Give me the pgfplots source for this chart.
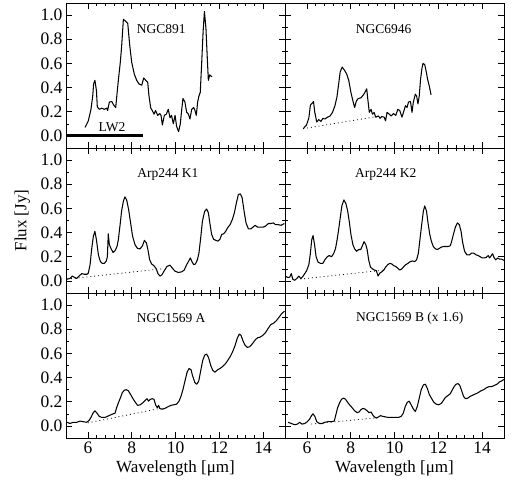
\documentclass[border=0pt]{standalone}
\usepackage{fontspec}
\setmainfont{Liberation Serif}
\usepackage{pgfplots}
\pgfplotsset{compat=1.18}
\pgfplotsset{
  panel/.style={
    scale only axis, width=219pt, height=145pt,
    xmin=5, xmax=15, ymin=-0.1, ymax=1.1,
    xtick={6,8,10,12,14}, ytick={0,0.2,0.4,0.6,0.8,1.0},
    minor x tick num=4, minor y tick num=1,
    tick align=inside, major tick length=6pt, minor tick length=3pt,
    every tick/.style={black, line width=0.6pt},
    axis line style={line width=0.8pt},
    yticklabel style={/pgf/number format/fixed, /pgf/number format/fixed zerofill, /pgf/number format/precision=1},
    /pgf/number format/assume math mode=true,
    ticklabel style={font=\fontsize{17.5}{19}\selectfont},
    label style={font=\fontsize{17}{19}\selectfont},
    clip=true,
  },
  nox/.style={xticklabels={}},
  noy/.style={yticklabels={}},
  spec/.style={black, no markers, line width=1.05pt, line join=round},
  base/.style={black, no markers, dash pattern=on 0.9pt off 3pt, line width=0.8pt},
}
\newcommand{\plab}[3]{\node[font=\fontsize{13.5}{15}\selectfont] at (axis cs:#1,#2) {#3};}
\begin{document}
\begin{tikzpicture}
\useasboundingbox (-66pt,-43pt) rectangle (447pt,438pt);
% ---------- top left: NGC891
\begin{axis}[panel, nox, at={(0pt,290pt)}, anchor=south west]
\addplot[spec] coordinates {
(5.87,0.07) (6.02,0.125) (6.14,0.22) (6.22,0.33) (6.26,0.43) (6.32,0.46) (6.39,0.375) (6.43,0.24)
(6.52,0.22) (6.63,0.23) (6.75,0.22) (6.86,0.23) (6.9,0.21) (6.98,0.28) (7.09,0.285) (7.18,0.255)
(7.27,0.235) (7.33,0.35) (7.39,0.46) (7.48,0.61) (7.54,0.74) (7.62,0.965) (7.72,0.95) (7.82,0.93)
(7.91,0.75) (8.0,0.61) (8.12,0.51) (8.23,0.46) (8.33,0.43) (8.46,0.42) (8.55,0.48) (8.64,0.46)
(8.73,0.445) (8.79,0.33) (8.87,0.23) (8.94,0.21) (9.02,0.18) (9.09,0.21) (9.19,0.17) (9.28,0.185)
(9.34,0.17) (9.4,0.09) (9.49,0.17) (9.58,0.18) (9.67,0.22) (9.75,0.15) (9.82,0.17) (9.9,0.1)
(9.98,0.17) (10.05,0.08) (10.14,0.035) (10.22,0.1) (10.28,0.21) (10.34,0.31) (10.43,0.28) (10.51,0.195)
(10.59,0.18) (10.66,0.14) (10.74,0.22) (10.83,0.235) (10.89,0.21) (10.95,0.17) (11.01,0.28) (11.07,0.33)
(11.13,0.36) (11.19,0.58) (11.26,0.86) (11.32,1.03) (11.39,0.89) (11.45,0.65) (11.5,0.46) (11.56,0.505)
(11.62,0.495) (11.67,0.49)
};
\addplot[black, no markers, line width=3pt] coordinates {(5,0) (8.5,0)};
\plab{9.35}{0.88}{NGC891}
\plab{7.1}{0.075}{LW2}
\end{axis}
% ---------- top right: NGC6946
\begin{axis}[panel, nox, noy, at={(219pt,290pt)}, anchor=south west]
\addplot[spec] coordinates {
(5.83,0.06) (5.98,0.09) (6.09,0.15) (6.16,0.255) (6.24,0.27) (6.3,0.285) (6.36,0.195) (6.45,0.115)
(6.54,0.135) (6.64,0.12) (6.73,0.145) (6.82,0.14) (6.94,0.155) (7.06,0.165) (7.17,0.195) (7.28,0.25)
(7.37,0.32) (7.45,0.43) (7.52,0.53) (7.61,0.57) (7.71,0.545) (7.81,0.515) (7.91,0.46) (8.01,0.36)
(8.1,0.29) (8.18,0.235) (8.26,0.29) (8.35,0.31) (8.47,0.315) (8.58,0.34) (8.65,0.36) (8.73,0.39)
(8.78,0.305) (8.85,0.195) (8.93,0.22) (8.99,0.18) (9.07,0.195) (9.14,0.155) (9.27,0.165) (9.34,0.145)
(9.42,0.16) (9.53,0.155) (9.59,0.125) (9.66,0.195) (9.76,0.18) (9.85,0.165) (9.95,0.185) (10.06,0.17)
(10.15,0.22) (10.24,0.21) (10.34,0.155) (10.41,0.195) (10.5,0.25) (10.57,0.235) (10.64,0.28) (10.73,0.285)
(10.8,0.195) (10.86,0.28) (10.95,0.345) (11.01,0.33) (11.07,0.265) (11.13,0.33) (11.19,0.47) (11.25,0.555)
(11.3,0.6) (11.38,0.59) (11.44,0.54) (11.51,0.47) (11.59,0.41) (11.67,0.34)
};
\addplot[base] coordinates {(5.83,0.06) (9.19,0.16)};
\plab{9.5}{0.88}{NGC6946}
\end{axis}
% ---------- middle left: Arp244 K1
\begin{axis}[panel, nox, at={(0pt,145pt)}, anchor=south west, ylabel={Flux [Jy]},
  ylabel style={at={(axis description cs:-0.2,0.5)}, anchor=center}]
\addplot[spec] coordinates {
(5.05,0.015) (5.18,0.02) (5.29,0.04) (5.38,0.03) (5.49,0.02) (5.59,0.04) (5.72,0.06) (5.84,0.055)
(5.96,0.055) (6.02,0.065) (6.1,0.135) (6.17,0.26) (6.25,0.37) (6.32,0.41) (6.39,0.34) (6.48,0.215)
(6.57,0.16) (6.66,0.145) (6.75,0.145) (6.84,0.165) (6.89,0.2) (6.93,0.39) (6.98,0.3) (7.05,0.27)
(7.15,0.235) (7.24,0.25) (7.33,0.285) (7.39,0.34) (7.47,0.465) (7.54,0.58) (7.62,0.66) (7.69,0.695)
(7.77,0.67) (7.86,0.59) (7.95,0.48) (8.04,0.37) (8.15,0.3) (8.26,0.27) (8.38,0.265) (8.49,0.29)
(8.58,0.335) (8.67,0.315) (8.74,0.26) (8.82,0.175) (8.91,0.14) (9.02,0.125) (9.12,0.1) (9.2,0.06)
(9.29,0.04) (9.38,0.05) (9.49,0.085) (9.61,0.12) (9.75,0.13) (9.86,0.105) (9.98,0.08) (10.13,0.07)
(10.28,0.075) (10.4,0.09) (10.51,0.135) (10.59,0.16) (10.68,0.19) (10.75,0.16) (10.83,0.135) (10.91,0.14)
(11.0,0.175) (11.07,0.23) (11.15,0.355) (11.23,0.495) (11.33,0.575) (11.42,0.595) (11.5,0.565) (11.58,0.465)
(11.65,0.385) (11.74,0.345) (11.85,0.335) (11.94,0.33) (12.03,0.345) (12.11,0.385) (12.2,0.39) (12.29,0.41)
(12.38,0.44) (12.49,0.465) (12.6,0.51) (12.69,0.565) (12.78,0.645) (12.87,0.715) (12.96,0.72) (13.04,0.69)
(13.13,0.58) (13.22,0.48) (13.33,0.43) (13.43,0.43) (13.54,0.445) (13.63,0.46) (13.75,0.445) (13.87,0.445)
(14.01,0.445) (14.12,0.455) (14.24,0.475) (14.36,0.475) (14.47,0.48) (14.57,0.465) (14.7,0.465) (14.82,0.46)
(14.97,0.475)
};
\addplot[base] coordinates {(5.05,0.015) (9.37,0.1)};
\plab{9.65}{0.88}{Arp244 K1}
\end{axis}
% ---------- middle right: Arp244 K2
\begin{axis}[panel, nox, noy, at={(219pt,145pt)}, anchor=south west]
\addplot[spec] coordinates {
(5.0,0.04) (5.11,0.03) (5.21,0.03) (5.29,0.06) (5.35,0.015) (5.44,0.005) (5.54,0.02) (5.63,0.04)
(5.72,0.02) (5.81,0.035) (5.9,0.06) (5.99,0.085) (6.09,0.135) (6.16,0.23) (6.22,0.34) (6.28,0.375)
(6.35,0.3) (6.42,0.2) (6.51,0.155) (6.62,0.145) (6.73,0.145) (6.82,0.175) (6.93,0.2) (7.02,0.21)
(7.13,0.2) (7.23,0.23) (7.31,0.27) (7.37,0.33) (7.45,0.425) (7.52,0.52) (7.6,0.625) (7.69,0.67)
(7.78,0.64) (7.86,0.58) (7.94,0.485) (8.01,0.385) (8.1,0.3) (8.18,0.265) (8.27,0.245) (8.36,0.26)
(8.46,0.26) (8.53,0.29) (8.61,0.325) (8.69,0.3) (8.75,0.26) (8.82,0.175) (8.9,0.115) (8.99,0.1)
(9.08,0.09) (9.17,0.085) (9.25,0.04) (9.33,0.065) (9.42,0.075) (9.51,0.09) (9.6,0.115) (9.69,0.135)
(9.79,0.145) (9.88,0.14) (9.97,0.125) (10.06,0.12) (10.15,0.105) (10.24,0.09) (10.34,0.1) (10.43,0.12)
(10.52,0.135) (10.61,0.145) (10.72,0.16) (10.83,0.165) (10.92,0.16) (11.01,0.175) (11.09,0.23) (11.16,0.34)
(11.24,0.465) (11.32,0.58) (11.38,0.62) (11.46,0.58) (11.53,0.48) (11.61,0.385) (11.68,0.33) (11.77,0.285)
(11.87,0.265) (11.96,0.26) (12.05,0.27) (12.14,0.28) (12.25,0.285) (12.35,0.285) (12.45,0.285) (12.54,0.29)
(12.6,0.32) (12.69,0.385) (12.78,0.445) (12.87,0.48) (12.96,0.465) (13.04,0.41) (13.11,0.32) (13.2,0.245)
(13.31,0.215) (13.42,0.215) (13.52,0.23) (13.62,0.23) (13.73,0.215) (13.82,0.21) (13.91,0.2) (14.01,0.19)
(14.1,0.19) (14.19,0.195) (14.28,0.21) (14.34,0.19) (14.42,0.21) (14.48,0.225) (14.54,0.195) (14.62,0.175)
(14.71,0.19) (14.8,0.18) (14.89,0.18) (15.0,0.17)
};
\addplot[base] coordinates {(5.7,0.015) (9.55,0.09)};
\plab{9.6}{0.88}{Arp244 K2}
\end{axis}
% ---------- bottom left: NGC1569 A
\begin{axis}[panel, at={(0pt,0pt)}, anchor=south west, xlabel={Wavelength [μm]}]
\addplot[spec] coordinates {
(5.05,0.03) (5.18,0.02) (5.33,0.03) (5.49,0.03) (5.64,0.04) (5.79,0.035) (5.94,0.03) (6.05,0.045)
(6.14,0.07) (6.23,0.105) (6.32,0.125) (6.42,0.105) (6.51,0.08) (6.63,0.07) (6.78,0.07) (6.9,0.08)
(7.02,0.09) (7.15,0.1) (7.24,0.105) (7.31,0.15) (7.39,0.19) (7.48,0.23) (7.57,0.275) (7.66,0.295)
(7.75,0.3) (7.85,0.29) (7.95,0.26) (8.06,0.225) (8.17,0.195) (8.27,0.17) (8.39,0.175) (8.5,0.19)
(8.61,0.21) (8.7,0.225) (8.77,0.205) (8.85,0.22) (8.94,0.225) (9.02,0.22) (9.09,0.175) (9.17,0.15)
(9.23,0.17) (9.28,0.145) (9.34,0.14) (9.44,0.14) (9.57,0.15) (9.67,0.16) (9.79,0.17) (9.92,0.175)
(10.05,0.18) (10.16,0.205) (10.25,0.245) (10.34,0.3) (10.43,0.37) (10.53,0.445) (10.62,0.475) (10.71,0.465)
(10.78,0.415) (10.88,0.36) (10.97,0.345) (11.06,0.37) (11.15,0.455) (11.24,0.54) (11.33,0.585) (11.42,0.595)
(11.51,0.565) (11.61,0.5) (11.7,0.46) (11.8,0.445) (11.93,0.465) (12.03,0.475) (12.14,0.49) (12.26,0.51)
(12.38,0.54) (12.5,0.575) (12.61,0.615) (12.72,0.665) (12.82,0.725) (12.91,0.76) (12.99,0.75) (13.08,0.705)
(13.17,0.67) (13.28,0.65) (13.39,0.655) (13.51,0.68) (13.63,0.71) (13.75,0.73) (13.87,0.735) (13.99,0.75)
(14.12,0.775) (14.24,0.81) (14.36,0.84) (14.48,0.85) (14.6,0.87) (14.73,0.9) (14.85,0.93) (14.98,0.95)
};
\addplot[base] coordinates {(6.0,0.025) (9.3,0.145)};
\plab{9.8}{0.89}{NGC1569 A}
\end{axis}
% ---------- bottom right: NGC1569 B
\begin{axis}[panel, noy, at={(219pt,0pt)}, anchor=south west, xlabel={Wavelength [μm]}]
\addplot[spec] coordinates {
(5.14,0.03) (5.29,0.02) (5.44,0.01) (5.57,0.015) (5.67,0.03) (5.78,0.015) (5.9,0.02) (6.02,0.035)
(6.12,0.055) (6.21,0.085) (6.28,0.1) (6.36,0.08) (6.45,0.035) (6.57,0.02) (6.7,0.02) (6.82,0.03)
(6.97,0.035) (7.13,0.035) (7.25,0.04) (7.32,0.09) (7.4,0.15) (7.49,0.19) (7.58,0.22) (7.68,0.23)
(7.77,0.22) (7.86,0.195) (7.97,0.17) (8.07,0.15) (8.18,0.125) (8.29,0.11) (8.38,0.115) (8.47,0.135)
(8.56,0.145) (8.65,0.14) (8.75,0.125) (8.84,0.11) (8.93,0.115) (9.01,0.09) (9.08,0.075) (9.17,0.065)
(9.27,0.075) (9.36,0.085) (9.45,0.08) (9.57,0.075) (9.72,0.07) (9.88,0.07) (10.03,0.07) (10.18,0.07)
(10.31,0.08) (10.4,0.105) (10.49,0.16) (10.58,0.195) (10.67,0.205) (10.76,0.175) (10.86,0.14) (10.95,0.12)
(11.04,0.16) (11.13,0.23) (11.22,0.3) (11.32,0.34) (11.41,0.345) (11.5,0.31) (11.59,0.26) (11.7,0.225)
(11.8,0.195) (11.91,0.18) (12.02,0.175) (12.13,0.185) (12.23,0.21) (12.32,0.235) (12.43,0.25) (12.54,0.265)
(12.63,0.295) (12.72,0.325) (12.81,0.345) (12.9,0.35) (12.98,0.335) (13.06,0.295) (13.15,0.245) (13.24,0.225)
(13.35,0.23) (13.46,0.245) (13.58,0.255) (13.7,0.265) (13.82,0.275) (13.94,0.29) (14.07,0.3) (14.19,0.315)
(14.31,0.325) (14.43,0.325) (14.56,0.335) (14.68,0.345) (14.8,0.365) (14.92,0.375) (15.0,0.385)
};
\addplot[base] coordinates {(6.2,0.015) (9.35,0.07)};
\plab{10.7}{0.89}{NGC1569 B (x 1.6)}
\end{axis}
\end{tikzpicture}
\end{document}
